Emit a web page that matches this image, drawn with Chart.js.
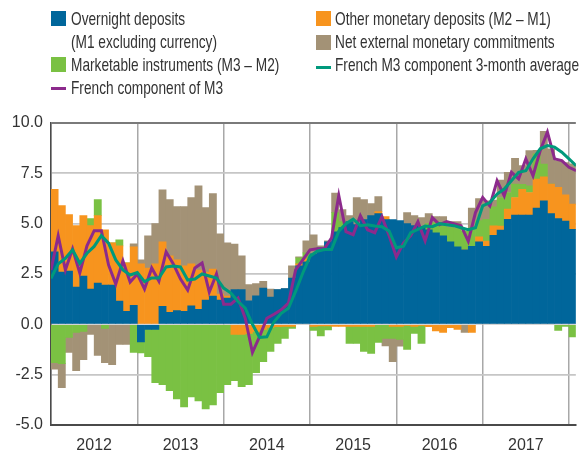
<!DOCTYPE html>
<html>
<head>
<meta charset="utf-8">
<script src="https://cdn.jsdelivr.net/npm/chart.js@4.4.1/dist/chart.umd.min.js"></script>
<style>
  body { margin: 0; background: #fff; }
  #wrap { position: relative; width: 580px; height: 454px; overflow: hidden; }
  #m3Chart { position: absolute; left: 0; top: 0; }
  .key { position: absolute; font: 19px 'Liberation Sans', Arial, sans-serif; color: #333; white-space: nowrap; line-height: 23px; }
  .key .txt { display: inline-block; transform: scaleX(0.72); transform-origin: left center; }
  .sw { position: absolute; width: 15px; height: 15px; }
  .ln { position: absolute; width: 15px; height: 3px; }
</style>
</head>
<body>
<div id="wrap">
  <canvas id="m3Chart" width="580" height="454"></canvas>

  <div class="sw" style="left:51px;top:11px;background:#00669b"></div>
  <div class="key" style="left:71px;top:7px"><span class="txt">Overnight deposits</span><br><span class="txt">(M1 excluding currency)</span></div>
  <div class="sw" style="left:51px;top:57px;background:#7ac143"></div>
  <div class="key" style="left:71px;top:53px"><span class="txt">Marketable instruments (M3 – M2)</span></div>
  <div class="ln" style="left:51px;top:87px;background:#8c2a8c"></div>
  <div class="key" style="left:71px;top:76px"><span class="txt">French component of M3</span></div>

  <div class="sw" style="left:316px;top:11px;background:#f7941e"></div>
  <div class="key" style="left:335px;top:7px"><span class="txt">Other monetary deposits (M2 – M1)</span></div>
  <div class="sw" style="left:316px;top:35px;background:#a39276"></div>
  <div class="key" style="left:335px;top:30px"><span class="txt">Net external monetary commitments</span></div>
  <div class="ln" style="left:316px;top:66px;background:#00997c"></div>
  <div class="key" style="left:335px;top:53px"><span class="txt">French M3 component 3-month average</span></div>
</div>

<script>
// monthly contributions, Jan 2012 .. Jan 2018 (percentage points)
const overnight = [
  3.6, 2.6, 2.65, 1.85, 2.4, 1.75, 2.05, 1.95, 1.95, 1.15, 0.65, 0.95,
  -0.87, -0.25, -0.25, 0.9, 0.6, 0.68, 0.65, 0.92, 0.75, 1.2, 1.4, 1.2,
  1.3, 1.72, 1.72, 1.17, 1.42, 1.8, 1.35, 1.72, 1.77, 2.3, 2.9, 3.1,
  3.5, 3.8, 4.1, 4.6, 4.8, 5.1, 4.95, 5.2, 5.4, 5.5, 5.2, 5.2,
  5.15, 5.0, 4.9, 4.85, 4.7, 4.55, 4.4, 4.1, 3.85, 3.7, 3.88, 4.1,
  3.88, 4.42, 4.68, 5.22, 5.43, 5.43, 5.43, 5.77, 6.13, 5.5, 5.25, 5.13,
  4.72
];
const otherDeposits = [
  3.1, 3.3, 2.8, 3.05, 3.0, 3.15, 3.35, 2.75, 2.1, 2.75, 2.4, 2.9,
  3.0, 2.8, 3.0, 3.2, 2.8, 2.52, 2.25, 2.08, 1.95, 1.4, 1.35, 0.3,
  0.1, -0.5, -0.5, -0.45, -0.35, -0.25, -0.15, -0.12, -0.1, -0.1, 0.1, 0.15,
  -0.1, -0.08, -0.08, -0.1, -0.1, -0.1, -0.1, -0.1, -0.1, 0.1, 0.15, -0.1,
  -0.1, -0.05, -0.1, -0.05, -0.12, -0.33, -0.4, -0.16, -0.25, 0, -0.4, 0.25,
  0.25, 0.47, 0.2, 0.5, 0.87, 1.28, 1.12, 1.45, 1.2, 1.47, 1.55, 1.3,
  1.25
];
const marketable = [
  -1.9, -1.95, -0.65, -0.4, -0.35, 0.35, 0.8, -0.2, 0, 0.3, 0, -1.4,
  -0.55, -1.35, -2.65, -3.0, -3.3, -3.7, -4.1, -3.6, -3.8, -4.2, -4.0, -3.4,
  -3.0, -2.3, -2.6, -2.55, -2.05, -1.6, -1.2, -0.83, -0.6, -0.1, 0.3, 0.3,
  -0.2, -0.5, -0.2, 0.95, 0.3, -0.85, -0.85, -1.25, -1.35, -0.9, -0.7, -0.6,
  -0.65, -1.2, -0.35, -0.9, 0.3, 0.5, 0.6, 0.7, 0.9, 0.95, 0.9, 0.8,
  1.08, 0.95, 1.42, 0.83, 0.67, 0.25, 0.33, 1.25, 0.63, 0, -0.3, -0.1,
  -0.62
];
const netExternal = [
  -0.33, -1.2, -0.75, -1.9, -1.4, -0.5, -1.55, -1.7, -2.0, -1.0, -1.0, 0.15,
  0.2, 1.6, 2.0, 2.58, 2.8, 2.65, 2.95, 3.3, 4.18, 3.2, 3.75, 3.0,
  2.65, 2.26, 1.68, 0.81, 0.61, 0.33, 0.4, 0, 0, 0.6, 0.05, 0.6,
  0.95, 0.1, 0.05, 0.97, 0.6, 0.3, 1.35, 1.0, 0.6, 0.75, -0.37, -1.15,
  -0.33, 0.55, 0.5, 0.45, 0.5, 0.3, 0.35, 0.3, 0.35, -0.4, 1.0, 1.1,
  0.92, 0.33, 0.87, 1.0, 1.28, 0.92, 1.75, 0.17, 1.63, 1.75, 1.33, 1.6,
  2.0
];
// year-on-year growth, points at month boundaries
const frenchM3 = [
  2.7, 4.4, 2.7, 3.75, 2.55, 3.9, 4.65, 4.65, 2.95, 2.0, 3.15, 2.1,
  2.5, 1.75, 2.8, 2.15, 3.6, 3.0, 2.25, 1.7, 2.8, 3.05, 1.6, 2.5,
  1.0, 1.0, 1.3, 0.3, -1.4, -0.6, 0.3, 0.5, 0.72, 1.05, 2.7, 3.2,
  3.7, 3.75, 3.75, 4.3, 6.4, 4.6, 4.45, 5.4, 4.7, 4.55, 5.35, 4.4,
  3.35, 4.05, 4.4, 5.1, 4.15, 5.3, 4.95, 5.1, 5.0, 4.9, 4.13, 5.55,
  6.3, 5.88, 7.13, 6.38, 7.55, 7.22, 8.22, 7.38, 8.63, 9.55, 8.22, 8.13,
  7.8, 7.63
];
const frenchM3Avg = [
  2.28, 3.0, 3.28, 3.7, 3.03, 3.53, 3.87, 4.4, 4.03, 3.2, 2.7, 2.45,
  2.57, 2.12, 2.3, 2.3, 2.85, 2.9, 2.85, 2.2, 2.25, 2.5, 2.4, 2.3,
  1.8, 1.55, 1.13, 0.8, 0.0, -0.65, -0.62, 0.13, 0.55, 0.8, 1.63, 2.55,
  3.38, 3.63, 3.72, 3.72, 4.63, 5.0, 5.22, 4.9, 4.95, 4.88, 4.85, 4.63,
  3.8, 3.88, 4.55, 4.72, 4.88, 4.85, 5.0, 4.95, 4.9, 4.8, 4.7, 4.8,
  5.88, 6.05, 6.47, 6.72, 7.13, 7.55, 7.63, 8.22, 8.72, 8.88, 8.8, 8.55,
  8.22, 7.88
];
const years = ['2012', '2013', '2014', '2015', '2016', '2017'];
const yTicks = [-5, -2.5, 0, 2.5, 5, 7.5, 10];

const tickFont = { family: "'Liberation Sans', Arial, sans-serif", size: 16 };

function barSet(label, values, color) {
  return {
    type: 'bar',
    label: label,
    data: values.map((v, i) => ({ x: i + 0.5, y: v })),
    backgroundColor: color,
    borderWidth: 0,
    barPercentage: 1,
    categoryPercentage: 1,
    stack: 'm3',
    order: 2
  };
}

function lineSet(label, values, color, order) {
  return {
    type: 'line',
    label: label,
    data: values.map((v, k) => ({ x: k, y: v })),
    borderColor: color,
    borderWidth: 3,
    pointRadius: 0,
    tension: 0,
    fill: false,
    stack: label,
    order: order
  };
}

new Chart(document.getElementById('m3Chart').getContext('2d'), {
  data: {
    datasets: [
      barSet('Overnight deposits (M1 excluding currency)', overnight, '#00669b'),
      barSet('Other monetary deposits (M2 – M1)', otherDeposits, '#f7941e'),
      barSet('Marketable instruments (M3 – M2)', marketable, '#7ac143'),
      barSet('Net external monetary commitments', netExternal, '#a39276'),
      lineSet('French component of M3', frenchM3, '#8c2a8c', 1),
      lineSet('French M3 component 3-month average', frenchM3Avg, '#00997c', 0)
    ]
  },
  options: {
    responsive: false,
    animation: false,
    layout: { padding: { top: 123, right: 0, left: 0, bottom: 0 } },
    plugins: {
      legend: { display: false },
      tooltip: { enabled: false }
    },
    scales: {
      x: {
        type: 'linear',
        min: 0,
        max: 72.95,
        offset: false,
        stacked: true,
        z: 1,
        afterBuildTicks: function (scale) {
          const t = [];
          for (let v = 0; v <= 72; v += 6) t.push({ value: v });
          scale.ticks = t;
        },
        afterFit: function (scale) { scale.height = 29; },
        grid: {
          offset: false,
          drawTicks: false,
          lineWidth: 1.5,
          color: ctx => (ctx.tick && ctx.tick.value % 12 === 0) ? '#a8a8a8' : 'rgba(0,0,0,0)'
        },
        border: { color: '#4a4a4a', width: 2 },
        ticks: {
          autoSkip: false,
          maxRotation: 0,
          padding: 11,
          color: '#333',
          font: tickFont,
          callback: function (v) {
            return v % 12 === 6 ? years[(v - 6) / 12] : '';
          }
        }
      },
      y: {
        min: -5,
        max: 10,
        stacked: true,
        z: 1,
        afterBuildTicks: function (scale) {
          scale.ticks = yTicks.map(v => ({ value: v }));
        },
        afterFit: function (scale) { scale.width = 51; },
        grid: {
          drawTicks: false,
          lineWidth: ctx => (ctx.tick && ctx.tick.value === 10) ? 2 : 1.8,
          color: ctx => (ctx.tick && ctx.tick.value === 10) ? '#7a7a7a' : '#c6c6c6'
        },
        border: { color: '#4a4a4a', width: 1.5 },
        ticks: {
          padding: 8,
          color: '#333',
          font: tickFont,
          callback: v => v.toFixed(1)
        }
      }
    }
  }
});
</script>
</body>
</html>
